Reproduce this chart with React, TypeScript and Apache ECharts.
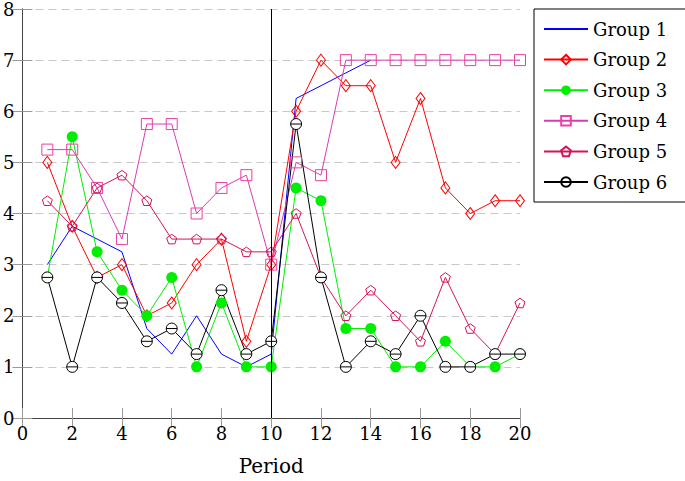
import React, { useEffect, useRef } from "react";
import * as echarts from "echarts";

const periods = [1, 2, 3, 4, 5, 6, 7, 8, 9, 10, 11, 12, 13, 14, 15, 16, 17, 18, 19, 20];
const group1 = [3.0, 3.75, 3.5, 3.25, 1.75, 1.25, 2.0, 1.25, 1.0, 1.25, 6.25, 6.5, 6.75, 7.0];
const group2 = [5.0, 3.75, 2.75, 3.0, 2.0, 2.25, 3.0, 3.5, 1.5, 3.0, 6.0, 7.0, 6.5, 6.5, 5.0, 6.25, 4.5, 4.0, 4.25, 4.25];
const group3 = [2.75, 5.5, 3.25, 2.5, 2.0, 2.75, 1.0, 2.25, 1.0, 1.0, 4.5, 4.25, 1.75, 1.75, 1.0, 1.0, 1.5, 1.0, 1.0, 1.25];
const group4 = [5.25, 5.25, 4.5, 3.5, 5.75, 5.75, 4.0, 4.5, 4.75, 3.0, 5.0, 4.75, 7.0, 7.0, 7.0, 7.0, 7.0, 7.0, 7.0, 7.0];
const group5 = [4.25, 3.75, 4.5, 4.75, 4.25, 3.5, 3.5, 3.5, 3.25, 3.25, 4.0, 2.75, 2.0, 2.5, 2.0, 1.5, 2.75, 1.75, 1.25, 2.25];
const group6 = [2.75, 1.0, 2.75, 2.25, 1.5, 1.75, 1.25, 2.5, 1.25, 1.5, 5.75, 2.75, 1.0, 1.5, 1.25, 2.0, 1.0, 1.0, 1.25, 1.25];
const seriesNames = ["Group 1", "Group 2", "Group 3", "Group 4", "Group 5", "Group 6"];
const treatmentPeriod = 10;

const FONT = "DejaVu Serif";

const pair = (vals: number[]) => vals.map((v, i) => [periods[i], v]);

export default function App() {
  const ref = useRef<HTMLDivElement>(null);
  useEffect(() => {
    if (!ref.current) return;
    const chart = echarts.init(ref.current, null, { renderer: "svg" });
    const axisLine = { show: true, lineStyle: { color: "#444", width: 1 } };
    const tick = { show: true, inside: true, length: 10, lineStyle: { color: "#999", width: 1 } };
    chart.setOption({
      animation: false,
      backgroundColor: "#fff",
      textStyle: { fontFamily: FONT },
      grid: { left: 20, right: 165, top: 9, bottom: 58 },
      legend: {
        orient: "vertical",
        left: 534,
        top: 9,
        padding: [9, 40, 9, 9],
        itemWidth: 44,
        itemHeight: 12,
        itemGap: 8.6,
        borderColor: "#000",
        borderWidth: 1,
        textStyle: { fontFamily: FONT, fontSize: 18, lineHeight: 22, color: "#000" },
        data: seriesNames.map((n, i) => (i === 0 ? { name: n, itemStyle: { opacity: 0 } } : { name: n })),
      },
      xAxis: [
        {
          type: "value",
          min: 0,
          max: 20,
          interval: 2,
          name: "Period",
          nameLocation: "middle",
          nameGap: 38,
          nameTextStyle: { fontFamily: FONT, fontSize: 20, color: "#000" },
          axisLine,
          axisTick: tick,
          axisLabel: { fontFamily: FONT, fontSize: 18, color: "#000", margin: 6 },
          splitLine: { show: false },
        },
        {
          type: "value",
          position: "top",
          min: 0,
          max: 20,
          interval: 2,
          axisLine,
          axisTick: tick,
          axisLabel: { show: false },
          splitLine: { show: false },
        },
      ],
      yAxis: [
        {
          type: "value",
          min: 0,
          max: 8,
          interval: 1,
          axisLine,
          axisTick: tick,
          axisLabel: { fontFamily: FONT, fontSize: 18, color: "#000", margin: 8 },
          splitLine: { show: true, lineStyle: { color: "#c8c8c8", type: [8, 5], width: 1 } },
        },
        {
          type: "value",
          position: "right",
          min: 0,
          max: 8,
          interval: 1,
          axisLine,
          axisTick: tick,
          axisLabel: { show: false },
          splitLine: { show: false },
        },
      ],
      series: [
        {
          name: "Group 1",
          type: "line",
          data: pair(group1),
          symbol: "none",
          lineStyle: { color: "#0000ff", width: 1 },
          itemStyle: { color: "#0000ff" },
          markLine: {
            silent: true,
            symbol: "none",
            label: { show: false },
            lineStyle: { color: "#000", type: "solid", width: 1 },
            data: [{ xAxis: treatmentPeriod }],
          },
        },
        {
          name: "Group 2",
          type: "line",
          data: pair(group2),
          symbol: "diamond",
          symbolSize: [9, 12],
          lineStyle: { color: "#ff0000", width: 1 },
          itemStyle: { color: "rgba(255,255,255,0)", borderColor: "#ff0000", borderWidth: 1 },
        },
        {
          name: "Group 3",
          type: "line",
          data: pair(group3),
          symbol: "circle",
          symbolSize: 11,
          lineStyle: { color: "#00ee00", width: 1 },
          itemStyle: { color: "#00ee00", borderWidth: 0 },
        },
        {
          name: "Group 4",
          type: "line",
          data: pair(group4),
          symbol: "rect",
          symbolSize: 11,
          lineStyle: { color: "#d83cb4", width: 1 },
          itemStyle: { color: "rgba(255,255,255,0)", borderColor: "#ec3fa0", borderWidth: 1 },
        },
        {
          name: "Group 5",
          type: "line",
          data: pair(group5),
          symbol: "path://M0,-10L9.51,-3.09L5.88,8.09L-5.88,8.09L-9.51,-3.09Z",
          symbolKeepAspect: true,
          symbolSize: 10,
          lineStyle: { color: "#d2145a", width: 1 },
          itemStyle: { color: "rgba(255,255,255,0)", borderColor: "#d2145a", borderWidth: 1 },
        },
        {
          name: "Group 6",
          type: "line",
          data: pair(group6),
          symbol: "path://M-10,0A10,10 0 1,1 10,0A10,10 0 1,1 -10,0ZM-10,0L10,0",
          symbolKeepAspect: true,
          symbolSize: 11,
          lineStyle: { color: "#000", width: 1 },
          itemStyle: { color: "#fff", borderColor: "#000", borderWidth: 1 },
        },
      ],
    });
    return () => chart.dispose();
  }, []);
  return <div ref={ref} style={{ position: "fixed", left: 0, top: 0, width: 685, height: 481 }} />;
}
